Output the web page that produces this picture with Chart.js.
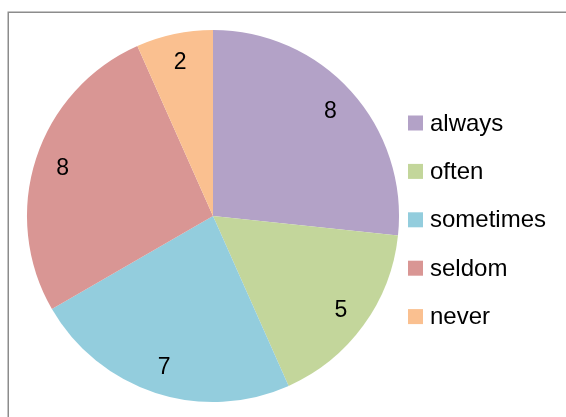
<!DOCTYPE html>
<html>
<head>
<meta charset="utf-8">
<script src="https://cdn.jsdelivr.net/npm/chart.js@4/dist/chart.umd.min.js"></script>
<style>
  html, body { margin: 0; padding: 0; background: #fff; }
  #wrap { position: relative; width: 566px; height: 417px; }
</style>
</head>
<body>
<div id="wrap"><canvas id="c" width="566" height="417"></canvas></div>
<script>
const categories = ["always", "often", "sometimes", "seldom", "never"];
const values = [8, 5, 7, 8, 2];
const colors = ["#B3A2C7", "#C3D69B", "#93CDDD", "#D99694", "#FAC090"];

const FONT = "'Liberation Sans', Arial, sans-serif";

const frame = {
  id: 'frame',
  beforeDraw(chart) {
    const ctx = chart.ctx;
    ctx.save();
    ctx.fillStyle = '#fff';
    ctx.fillRect(0, 0, chart.width, chart.height);
    ctx.strokeStyle = '#8c8c8c';
    ctx.lineWidth = 1.5;
    ctx.strokeRect(8.25, 12.25, 700, 600);
    ctx.restore();
  }
};

const labelsPlugin = {
  id: 'sliceLabels',
  afterDatasetsDraw(chart) {
    const ctx = chart.ctx;
    const meta = chart.getDatasetMeta(0);
    ctx.save();
    ctx.font = "23px " + FONT;
    ctx.fillStyle = '#000';
    ctx.textAlign = 'center';
    ctx.textBaseline = 'middle';
    meta.data.forEach((arc, i) => {
      const p = arc.getProps(['x', 'y', 'startAngle', 'endAngle', 'outerRadius'], true);
      const mid = (p.startAngle + p.endAngle) / 2;
      const r = p.outerRadius * 0.85;
      ctx.fillText(String(chart.data.datasets[0].data[i]), p.x + Math.cos(mid) * r, p.y + Math.sin(mid) * r + 1.5);
    });
    ctx.restore();
  }
};

const legendPlugin = {
  id: 'sideLegend',
  afterDraw(chart) {
    const ctx = chart.ctx;
    const ds = chart.data.datasets[0];
    ctx.save();
    ctx.font = "24px " + FONT;
    ctx.textAlign = 'left';
    ctx.textBaseline = 'middle';
    chart.data.labels.forEach((lab, i) => {
      const cy = 123 + i * 48.4;
      ctx.fillStyle = ds.backgroundColor[i];
      ctx.fillRect(408, cy - 7.5, 15, 15);
      ctx.fillStyle = '#000';
      ctx.fillText(lab, 430, cy + 1);
    });
    ctx.restore();
  }
};

new Chart(document.getElementById('c'), {
  type: 'pie',
  data: {
    labels: categories,
    datasets: [{
      data: values,
      backgroundColor: colors,
      borderWidth: 0
    }]
  },
  options: {
    responsive: false,
    animation: false,
    layout: { padding: { left: 27, top: 30, bottom: 15, right: 167 } },
    plugins: {
      legend: { display: false },
      tooltip: { enabled: false }
    }
  },
  plugins: [frame, labelsPlugin, legendPlugin]
});
</script>
</body>
</html>
